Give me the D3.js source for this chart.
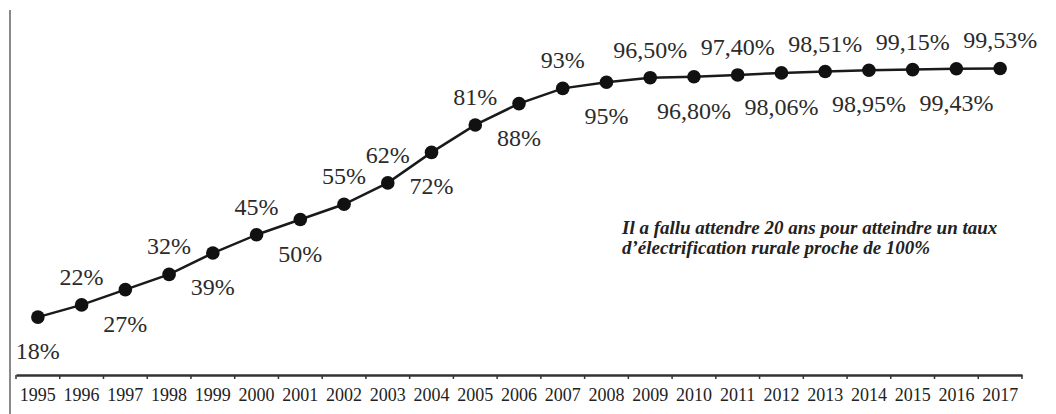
<!DOCTYPE html>
<html>
<head>
<meta charset="utf-8">
<script src="https://cdn.jsdelivr.net/npm/d3@7"></script>
<style>
  html, body { margin: 0; padding: 0; background: #fff; }
  svg { display: block; }
</style>
</head>
<body>
<div id="chart"></div>
<script>
// taux d'électrification rurale, 1995-2017
const years = ['1995', '1996', '1997', '1998', '1999', '2000', '2001', '2002', '2003', '2004', '2005', '2006',
  '2007', '2008', '2009', '2010', '2011', '2012', '2013', '2014', '2015', '2016', '2017']
const rates = [18, 22, 27, 32, 39, 45, 50, 55, 62, 72, 81, 88, 93, 95, 96.5, 96.8, 97.4, 98.06, 98.51, 98.95, 99.15, 99.43, 99.53]
const rateLabels = ['18%', '22%', '27%', '32%', '39%', '45%', '50%', '55%', '62%', '72%', '81%', '88%',
  '93%', '95%', '96,50%', '96,80%', '97,40%', '98,06%', '98,51%', '98,95%', '99,15%', '99,43%', '99,53%']
const labelSide = ['below', 'above', 'below', 'above', 'below', 'above', 'below', 'above', 'above', 'below', 'above', 'below',
  'above', 'below', 'above', 'below', 'above', 'below', 'above', 'below', 'above', 'below', 'above']
const note = ['Il a fallu attendre 20 ans pour atteindre un taux', 'd\u2019électrification rurale proche de 100%']

const width = 1056
const height = 414
const serif = '"Liberation Serif", "Times New Roman", serif'
const data = years.map((y, i) => ({ year: y, value: rates[i], label: rateLabels[i], side: labelSide[i] }))

const svg = d3.select('#chart').append('svg')
  .attr('width', width)
  .attr('height', height)

const x = d3.scaleBand().domain(years).range([16, 1022]).paddingInner(0).paddingOuter(0)
const y = d3.scaleLinear().domain([0, 100]).range([372, 67])
const cx = d => x(d.year) + x.bandwidth() / 2

// left frame line
svg.append('line')
  .attr('x1', 10).attr('x2', 10)
  .attr('y1', 10).attr('y2', height)
  .attr('stroke', '#8a8a8a')
  .attr('stroke-width', 2)

// x axis
const axisY = 375
const xAxis = svg.append('g')
  .attr('transform', 'translate(0,' + axisY + ')')
  .call(d3.axisBottom(x).tickSize(0).tickPadding(13))
xAxis.select('.domain')
  .attr('stroke', '#333')
  .attr('stroke-width', 2.5)
xAxis.selectAll('text')
  .style('font-family', serif)
  .style('font-size', '18px')
  .attr('fill', '#222')

// small ticks on the band edges
const edges = years.map(d => x(d)).concat([x.range()[1]])
xAxis.selectAll('.edge')
  .data(edges)
  .enter().append('line')
  .attr('class', 'edge')
  .attr('x1', d => d).attr('x2', d => d)
  .attr('y1', 0).attr('y2', 4)
  .attr('stroke', '#333')
  .attr('stroke-width', 1.5)

// line
const line = d3.line().x(cx).y(d => y(d.value))
svg.append('path')
  .datum(data)
  .attr('d', line)
  .attr('fill', 'none')
  .attr('stroke', '#1a1a1a')
  .attr('stroke-width', 2.5)

svg.selectAll('.dot')
  .data(data)
  .enter().append('circle')
  .attr('class', 'dot')
  .attr('cx', cx)
  .attr('cy', d => y(d.value))
  .attr('r', 6.8)
  .attr('fill', '#111')

// value labels, alternately above and below
svg.selectAll('.val')
  .data(data)
  .enter().append('text')
  .attr('class', 'val')
  .attr('x', cx)
  .attr('y', d => d.side === 'above' ? y(d.value) - 20 : y(d.value) + 42)
  .attr('text-anchor', 'middle')
  .style('font-family', serif)
  .style('font-size', '24px')
  .attr('fill', '#2b2b2b')
  .text(d => d.label)

// annotation
svg.append('text')
  .attr('x', 622)
  .attr('y', 234)
  .style('font-family', serif)
  .style('font-size', '19px')
  .style('font-weight', 'bold')
  .style('font-style', 'italic')
  .attr('fill', '#222')
  .selectAll('tspan')
  .data(note)
  .enter().append('tspan')
  .attr('x', 622)
  .attr('dy', (d, i) => i === 0 ? 0 : 20)
  .text(d => d)
</script>
</body>
</html>
